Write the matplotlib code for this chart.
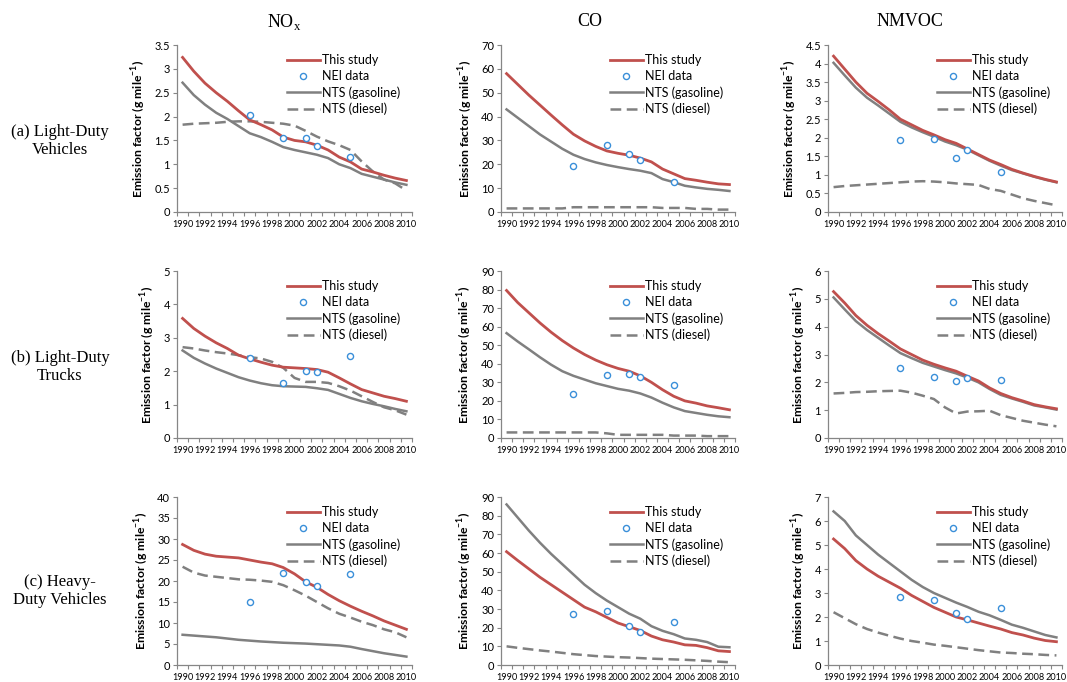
import matplotlib
matplotlib.use("Agg")
import matplotlib.pyplot as plt
import numpy as np

years = list(range(1990, 2011))
nei_years = [1996, 1999, 2001, 2002, 2005]

# ---- Row (a) Light-Duty Vehicles ----
ldv_nox_study = [3.24, 2.95, 2.70, 2.50, 2.32, 2.12, 1.93, 1.83, 1.72, 1.57, 1.50, 1.47, 1.40, 1.30, 1.15, 1.05, 0.90, 0.84, 0.77, 0.71, 0.66]
ldv_nox_gas = [2.71, 2.45, 2.25, 2.08, 1.95, 1.80, 1.65, 1.57, 1.47, 1.36, 1.30, 1.25, 1.20, 1.13, 1.00, 0.92, 0.80, 0.74, 0.68, 0.62, 0.57]
ldv_nox_die = [1.83, 1.85, 1.86, 1.87, 1.89, 1.90, 1.90, 1.89, 1.87, 1.85, 1.81, 1.70, 1.58, 1.48, 1.40, 1.30, 1.06, 0.85, 0.68, 0.60, 0.45]
ldv_nox_nei = [2.04, 1.55, 1.55, 1.39, 1.16]

ldv_co_study = [58.0, 53.5, 49.0, 44.8, 40.6, 36.5, 32.6, 29.8, 27.5, 25.6, 24.6, 23.8, 22.6, 21.0, 18.0, 16.0, 14.0, 13.3, 12.5, 11.8, 11.5]
ldv_co_gas = [43.0, 39.5, 36.0, 32.5, 29.5, 26.5, 24.0, 22.2, 20.8, 19.7, 18.8, 18.0, 17.3, 16.3, 13.8, 12.5, 11.0, 10.3, 9.7, 9.3, 8.8]
ldv_co_die = [1.5, 1.5, 1.5, 1.5, 1.5, 1.5, 2.0, 2.0, 2.0, 2.0, 2.0, 2.0, 2.0, 2.0, 1.7, 1.7, 1.7, 1.3, 1.3, 1.0, 1.0]
ldv_co_nei = [19.4, 28.0, 24.3, 22.0, 12.7]

ldv_voc_study = [4.20, 3.85, 3.50, 3.20, 2.98, 2.75, 2.50, 2.35, 2.20, 2.08, 1.95, 1.85, 1.70, 1.55, 1.40, 1.28, 1.15, 1.05, 0.96, 0.88, 0.81]
ldv_voc_gas = [4.02, 3.68, 3.35, 3.08, 2.87, 2.65, 2.43, 2.28, 2.15, 2.03, 1.90, 1.80, 1.68, 1.53, 1.38, 1.25, 1.13, 1.04, 0.95, 0.87, 0.80]
ldv_voc_die = [0.67, 0.70, 0.72, 0.74, 0.76, 0.78, 0.80, 0.82, 0.83, 0.82, 0.80, 0.77, 0.75, 0.73, 0.62, 0.57, 0.47, 0.37, 0.30, 0.24, 0.18]
ldv_voc_nei = [1.93, 1.98, 1.45, 1.67, 1.08]

# ---- Row (b) Light-Duty Trucks ----
ldt_nox_study = [3.58, 3.28, 3.05, 2.85, 2.68, 2.48, 2.37, 2.27, 2.18, 2.12, 2.10, 2.08, 2.05, 1.97, 1.80, 1.62, 1.45, 1.35, 1.25, 1.18, 1.10]
ldt_nox_gas = [2.62, 2.40, 2.23, 2.08, 1.95, 1.82, 1.72, 1.64, 1.58, 1.55, 1.54, 1.53, 1.49, 1.44, 1.32, 1.20, 1.10, 1.02, 0.95, 0.87, 0.80]
ldt_nox_die = [2.72, 2.68, 2.62, 2.57, 2.53, 2.48, 2.42, 2.38, 2.28, 2.10, 1.80, 1.68, 1.68, 1.65, 1.55, 1.42, 1.25, 1.08, 0.92, 0.83, 0.70]
ldt_nox_nei = [2.40, 1.64, 2.02, 1.99, 2.45]

ldt_co_study = [79.5, 73.0, 67.5, 62.0, 57.0, 52.5, 48.5, 45.0, 42.0, 39.5, 37.5, 36.0, 33.5, 30.0, 26.0, 22.5, 20.0, 18.8, 17.3, 16.3, 15.2]
ldt_co_gas = [56.5, 52.0, 47.8, 43.5, 39.5, 36.0, 33.5, 31.5, 29.5, 28.0, 26.5, 25.5, 24.0, 21.8, 19.0, 16.5, 14.5, 13.5, 12.5, 11.7, 11.2]
ldt_co_die = [3.0, 3.0, 3.0, 3.0, 3.0, 3.0, 3.0, 3.0, 3.0, 2.5, 1.7, 1.7, 1.7, 1.7, 1.7, 1.3, 1.3, 1.3, 1.0, 1.0, 1.0]
ldt_co_nei = [23.6, 34.2, 34.5, 33.0, 28.5]

ldt_voc_study = [5.26, 4.85, 4.40, 4.05, 3.75, 3.48, 3.20, 3.00, 2.80, 2.65, 2.52, 2.40, 2.22, 2.05, 1.80, 1.60, 1.45, 1.33, 1.20, 1.12, 1.05]
ldt_voc_gas = [5.05, 4.62, 4.20, 3.88, 3.60, 3.32, 3.05, 2.87, 2.70, 2.57, 2.44, 2.32, 2.17, 2.00, 1.76, 1.55, 1.42, 1.30, 1.17, 1.10, 1.02]
ldt_voc_die = [1.60, 1.62, 1.65, 1.66, 1.68, 1.69, 1.70, 1.63, 1.52, 1.40, 1.10, 0.88, 0.95, 0.96, 0.98, 0.82, 0.72, 0.62, 0.55, 0.48, 0.42]
ldt_voc_nei = [2.52, 2.20, 2.03, 2.17, 2.10]

# ---- Row (c) Heavy-Duty Vehicles ----
hdv_nox_study = [28.7, 27.3, 26.4, 25.9, 25.7, 25.5, 25.0, 24.5, 24.1, 23.2, 21.7, 19.8, 18.5, 16.8, 15.3, 14.0, 12.8, 11.7, 10.5, 9.5, 8.5]
hdv_nox_gas = [7.2, 7.0, 6.8, 6.6, 6.3, 6.0, 5.8, 5.6, 5.45, 5.3, 5.2, 5.1, 4.95, 4.8, 4.65, 4.35, 3.8, 3.3, 2.8, 2.4, 2.0]
hdv_nox_die = [23.4, 22.0, 21.3, 21.0, 20.7, 20.4, 20.3, 20.1, 19.8, 19.0, 17.8, 16.5, 15.0, 13.5, 12.2, 11.3, 10.3, 9.5, 8.5, 7.8, 6.6]
hdv_nox_nei = [15.1, 21.8, 19.8, 18.8, 21.7]

hdv_co_study = [60.7, 56.0, 51.5, 47.0, 43.0, 39.0, 35.0, 31.0, 28.5, 25.5, 22.5, 20.5, 18.5, 15.5, 13.5, 12.3, 10.8, 10.5, 9.3, 7.6, 7.2]
hdv_co_gas = [86.0, 79.0, 72.0, 65.5, 59.5, 54.0, 48.5, 43.0, 38.5, 34.5, 31.0, 27.5, 24.8, 20.8, 18.3, 16.5, 14.2, 13.5, 12.3, 9.8, 9.5]
hdv_co_die = [10.0, 9.2, 8.5, 7.8, 7.2, 6.5, 5.8, 5.3, 4.8, 4.5, 4.2, 4.0, 3.7, 3.4, 3.2, 3.0, 2.8, 2.5, 2.2, 1.8, 1.5]
hdv_co_nei = [27.5, 28.8, 21.0, 17.7, 23.0]

hdv_voc_study = [5.25, 4.85, 4.35, 4.00, 3.70, 3.45, 3.20, 2.90, 2.65, 2.40, 2.20, 2.00, 1.88, 1.75, 1.62, 1.50, 1.35, 1.25, 1.12, 1.02, 0.97]
hdv_voc_gas = [6.40, 6.00, 5.40, 5.00, 4.60, 4.25, 3.90, 3.55, 3.25, 3.00, 2.80, 2.60, 2.42, 2.22, 2.07, 1.88, 1.68, 1.55, 1.40, 1.25, 1.15]
hdv_voc_die = [2.20, 1.95, 1.70, 1.50, 1.35, 1.22, 1.10, 1.00, 0.93, 0.85, 0.80, 0.74, 0.68, 0.62, 0.57, 0.52, 0.50, 0.47, 0.45, 0.42, 0.40]
hdv_voc_nei = [2.82, 2.72, 2.18, 1.90, 2.38]

col_titles = ["NO$_\\mathregular{x}$", "CO", "NMVOC"]
row_labels = ["(a) Light-Duty\nVehicles", "(b) Light-Duty\nTrucks", "(c) Heavy-\nDuty Vehicles"]
legend_labels = ["This study", "NEI data", "NTS (gasoline)", "NTS (diesel)"]
ylabel_text = "Emission factor (g mile$^\\mathregular{-1}$)"

panels = [
    [(ldv_nox_study, ldv_nox_nei, ldv_nox_gas, ldv_nox_die, 3.5, 0.5),
     (ldv_co_study, ldv_co_nei, ldv_co_gas, ldv_co_die, 70, 10),
     (ldv_voc_study, ldv_voc_nei, ldv_voc_gas, ldv_voc_die, 4.5, 0.5)],
    [(ldt_nox_study, ldt_nox_nei, ldt_nox_gas, ldt_nox_die, 5, 1),
     (ldt_co_study, ldt_co_nei, ldt_co_gas, ldt_co_die, 90, 10),
     (ldt_voc_study, ldt_voc_nei, ldt_voc_gas, ldt_voc_die, 6, 1)],
    [(hdv_nox_study, hdv_nox_nei, hdv_nox_gas, hdv_nox_die, 40, 5),
     (hdv_co_study, hdv_co_nei, hdv_co_gas, hdv_co_die, 90, 10),
     (hdv_voc_study, hdv_voc_nei, hdv_voc_gas, hdv_voc_die, 7, 1)],
]

RED = "#C0504D"
GRAY = "#808080"
BLUE = "#3A8FD9"
AXC = "#868686"
TICKFONT = "Lato"
SERIF = "Liberation Serif"

W, H = 1067, 682
fig = plt.figure(figsize=(W / 100, H / 100), dpi=100)

col_px = [(177, 412), (501, 735), (828, 1062)]
row_px = [(45, 212), (271, 438), (497, 665)]

def fmt(v):
    return "%g" % v

for r in range(3):
    for c in range(3):
        study, nei, gas, die, ymax, ystep = panels[r][c]
        x0, x1 = col_px[c]
        y0, y1 = row_px[r]
        ax = fig.add_axes([x0 / W, 1 - y1 / H, (x1 - x0) / W, (y1 - y0) / H])
        ax.plot(years, study, color=RED, lw=2.0, label=legend_labels[0], zorder=4)
        ax.plot(nei_years, nei, linestyle="none", marker="o", markersize=4.4,
                markerfacecolor="white", markeredgecolor=BLUE, markeredgewidth=1.0,
                label=legend_labels[1], zorder=5)
        ax.plot(years, gas, color=GRAY, lw=1.8, label=legend_labels[2], zorder=3)
        ax.plot(years, die, color=GRAY, lw=1.8, dashes=(4.3, 2.2), label=legend_labels[3], zorder=3)

        ax.set_xlim(1989.5, 2010.5)
        ax.set_ylim(0, ymax)
        yt = np.arange(0, ymax + ystep / 2, ystep)
        ax.set_yticks(yt)
        ax.set_yticklabels([fmt(round(v, 2)) for v in yt], fontsize=8, family=TICKFONT)
        ax.set_xticks(years[::2])
        ax.set_xticklabels([str(y) for y in years[::2]], fontsize=6.6, family=TICKFONT)
        ax.set_xticks(np.arange(1989.5, 2011, 1.0), minor=True)
        ax.tick_params(axis="x", which="major", length=0, pad=6)
        ax.tick_params(axis="x", which="minor", length=3, width=0.8, color=AXC, direction="out")
        ax.tick_params(axis="y", which="major", length=3, width=0.8, color=AXC, direction="out", pad=2)
        for s in ["top", "right"]:
            ax.spines[s].set_visible(False)
        for s in ["left", "bottom"]:
            ax.spines[s].set_color(AXC)
            ax.spines[s].set_linewidth(0.9)
        ax.set_ylabel(ylabel_text, fontsize=8.8, fontweight="bold", family=TICKFONT, labelpad=4)
        ax.legend(loc="upper right", bbox_to_anchor=(0.98, 0.99), frameon=False,
                  prop={"family": TICKFONT, "size": 9}, handlelength=2.6,
                  handletextpad=0.15, labelspacing=0.32, borderaxespad=0.2)

col_centers = [284, 590, 910]
for c in range(3):
    fig.text(col_centers[c] / W, 1 - 22 / H, col_titles[c], ha="center", va="center",
             fontsize=13, family=SERIF)

row_centers = [141, 367, 591]
for r in range(3):
    fig.text(60 / W, 1 - row_centers[r] / H, row_labels[r], ha="center", va="center",
             fontsize=12, family=SERIF, linespacing=1.2)

fig.savefig("out.png", dpi=100)
